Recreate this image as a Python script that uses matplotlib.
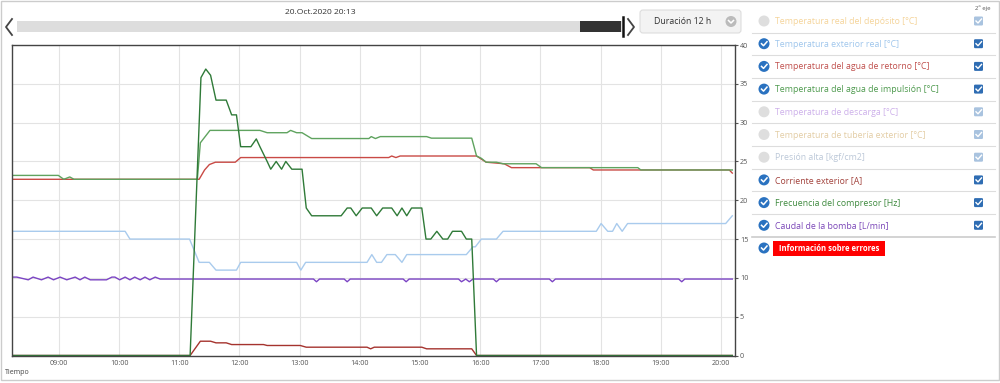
import matplotlib
matplotlib.use('Agg')
import matplotlib.pyplot as plt
from matplotlib.patches import Rectangle, Circle, FancyBboxPatch

plt.rcParams['font.family'] = ['Open Sans', 'DejaVu Sans']

# ---- datos (horas decimales) ----
hour_ticks = [9, 10, 11, 12, 13, 14, 15, 16, 17, 18, 19, 20]
hour_labels = ['09:00', '10:00', '11:00', '12:00', '13:00', '14:00',
               '15:00', '16:00', '17:00', '18:00', '19:00', '20:00']
y_ticks = [0, 5, 10, 15, 20, 25, 30, 35, 40]

t_ext = [8.22, 10.10, 10.18, 11.17, 11.33, 11.50, 11.61, 11.95, 12.02, 12.95, 13.02, 13.10,
         14.12, 14.20, 14.28, 14.36, 14.45, 14.59, 14.70, 14.78, 15.77, 15.88, 15.92, 16.02,
         16.27, 16.38, 17.93, 18.01, 18.12, 18.20, 18.27, 18.36, 18.45, 20.08, 20.19]
v_ext = [16, 16, 15, 15, 12, 12, 11, 11, 12, 12, 11, 12,
         12, 13, 12, 12, 13, 13, 12, 13, 13, 14, 14, 15,
         15, 16, 16, 17, 16, 16, 17, 16, 17, 17, 18]

t_ret = [8.22, 11.33, 11.42, 11.50, 11.60, 11.93, 12.02, 14.48, 14.53, 14.60, 14.67,
         15.94, 16.10, 16.40, 16.52, 17.82, 17.88, 20.14, 20.19]
v_ret = [22.7, 22.7, 23.9, 24.6, 24.9, 24.9, 25.5, 25.5, 25.7, 25.5, 25.7,
         25.7, 24.9, 24.7, 24.2, 24.2, 23.9, 23.9, 23.5]

t_imp = [8.22, 8.99, 9.08, 9.18, 9.25, 11.30, 11.35, 11.51, 12.34, 12.46, 12.79, 12.85,
         12.95, 13.04, 13.20, 14.15, 14.19, 14.26, 14.34, 15.11, 15.19, 15.86, 15.94,
         16.02, 16.10, 16.27, 16.38, 16.93, 17.02, 18.62, 18.67, 20.19]
v_imp = [23.2, 23.2, 22.7, 23.0, 22.7, 22.7, 27.4, 29.0, 29.0, 28.7, 28.7, 29.0,
         28.7, 28.7, 27.95, 27.95, 28.2, 27.95, 28.2, 28.2, 28.0, 28.0, 25.7,
         25.4, 24.9, 24.9, 24.7, 24.7, 24.2, 24.2, 23.9, 23.9]

t_comp = [8.22, 11.18, 11.36, 11.44, 11.52, 11.61, 11.78, 11.87, 11.95, 12.02, 12.19, 12.28,
          12.34, 12.46, 12.52, 12.61, 12.70, 12.77, 12.87, 13.04, 13.11, 13.20, 13.69, 13.79,
          13.85, 13.94, 14.04, 14.19, 14.28, 14.38, 14.53, 14.62, 14.70, 14.78, 14.86, 15.03,
          15.10, 15.18, 15.28, 15.38, 15.46, 15.54, 15.69, 15.77, 15.86, 15.94, 20.19]
v_comp = [0, 0, 35.8, 36.9, 36.1, 32.9, 32.9, 31.0, 31.0, 26.9, 26.9, 27.9,
          26.9, 25.0, 24.0, 25.0, 24.0, 25.0, 24.0, 24.0, 19.0, 18.0, 18.0, 19.0,
          19.0, 18.0, 19.0, 19.0, 18.0, 19.0, 19.0, 18.0, 19.0, 18.0, 19.0, 19.0,
          15.0, 15.0, 16.0, 15.0, 15.0, 16.0, 16.0, 15.0, 15.0, 0, 0]

t_corr = [8.22, 11.18, 11.35, 11.52, 11.61, 11.78, 11.87, 12.40, 12.46, 13.01, 13.11,
          14.12, 14.18, 14.24, 15.03, 15.11, 15.86, 15.94, 20.19]
v_corr = [0, 0, 1.84, 1.84, 1.63, 1.63, 1.41, 1.41, 1.29, 1.29, 1.07,
          1.07, 0.86, 1.07, 1.07, 0.86, 0.86, 0, 0]

t_caud = [8.22, 8.30, 8.49, 8.57, 8.71, 8.82, 8.91, 9.02, 9.13, 9.27, 9.35, 9.43, 9.52,
          9.79, 9.88, 9.93, 10.01, 10.10, 10.18, 10.26, 10.35, 10.43, 10.51, 10.60, 10.68,
          13.23, 13.28, 13.33, 13.74, 13.79, 13.84, 14.72, 14.77, 14.82, 15.64, 15.69,
          15.76, 15.82, 15.88, 16.22, 16.27, 16.32, 17.15, 17.20, 17.25, 19.30, 19.35,
          19.40, 20.19]
v_caud = [10.1, 10.1, 9.75, 10.1, 9.75, 10.1, 9.75, 10.1, 9.75, 10.1, 9.75, 10.1, 9.75,
          9.75, 10.1, 10.1, 9.75, 10.1, 9.75, 10.1, 9.75, 10.1, 9.75, 10.1, 9.85,
          9.85, 9.5, 9.85, 9.85, 9.5, 9.85, 9.85, 9.5, 9.85, 9.85, 9.5,
          9.85, 9.5, 9.85, 9.85, 9.5, 9.85, 9.85, 9.5, 9.85, 9.85, 9.5,
          9.85, 9.85]

legend_items = [
    ('Temperatura real del depósito [°C]', '#f5d49a', False),
    ('Temperatura exterior real [°C]', '#9fc6ec', True),
    ('Temperatura del agua de retorno [°C]', '#c0504d', True),
    ('Temperatura del agua de impulsión [°C]', '#4e9a4e', True),
    ('Temperatura de descarga [°C]', '#cdb0ea', False),
    ('Temperatura de tubería exterior [°C]', '#e3cda5', False),
    ('Presión alta [kgf/cm2]', '#bcc8d8', False),
    ('Corriente exterior [A]', '#a2423c', True),
    ('Frecuencia del compresor [Hz]', '#3f8a3f', True),
    ('Caudal de la bomba [L/min]', '#7b47b8', True),
]

fig = plt.figure(figsize=(10, 3.83), dpi=100)

# capa de fondo en píxeles (interfaz alrededor del gráfico)
ui = fig.add_axes([0, 0, 1, 1])
ui.set_xlim(0, 1000); ui.set_ylim(383, 0); ui.axis('off')
ui.add_patch(Rectangle((1, 1), 998, 379, fill=False, ec='#cccccc', lw=1))

ui.text(320, 12.5, '20.Oct.2020 20:13', fontsize=6.1, ha='center', va='center', color='#333')
ui.add_patch(Rectangle((17, 21), 605, 11, fc='#dddddd', ec='none'))
ui.add_patch(Rectangle((580, 21), 41, 11, fc='#333333', ec='none'))
ui.plot([623, 623], [17, 36], color='#111', lw=1.8)
ui.plot([12, 6, 12], [19, 27, 35], color='#444', lw=1.3)
ui.plot([628, 634, 628], [19, 27, 35], color='#444', lw=1.3)
ui.add_patch(FancyBboxPatch((640, 10), 101, 23, boxstyle='round,pad=0,rounding_size=3',
                            fc='#f3f3f3', ec='#dddddd', lw=0.8))
ui.text(683, 21.5, 'Duración 12 h', fontsize=6.3, ha='center', va='center', color='#333')
ui.add_patch(Circle((731, 21.5), 5.5, fc='#bbbbbb', ec='none'))
ui.plot([728.5, 731, 733.5], [20.5, 23, 20.5], color='white', lw=1.1)

# leyenda
ui.text(983, 8, '2º eje', fontsize=4.3, ha='center', va='center', color='#555')
row_y = [21 + i * 22.7 for i in range(len(legend_items) + 1)]
for i, (name, col, on) in enumerate(legend_items):
    y = row_y[i]
    if on:
        ui.add_patch(Circle((764, y), 5.5, fc='#2a72c0', ec='none'))
        ui.plot([761.5, 763.5, 767], [y, y + 2, y - 2], color='white', lw=1.1)
        bcol = '#2f6db3'
    else:
        ui.add_patch(Circle((764, y), 5.5, fc='#dedede', ec='none'))
        bcol = '#a9c3df'
    ui.text(775, y + 0.5, name, fontsize=6.3, ha='left', va='center', color=col)
    ui.add_patch(FancyBboxPatch((974, y - 4.5), 9, 9, boxstyle='round,pad=0,rounding_size=1.2',
                                fc=bcol, ec='none'))
    ui.plot([976, 978, 981.5], [y, y + 2, y - 2], color='white', lw=1.0)
    ui.plot([752, 995], [y + 11.5, y + 11.5], color='#dddddd' if i < 9 else '#cccccc',
            lw=0.8 if i < 9 else 1.2)
y = row_y[-1]
ui.add_patch(Circle((764, y), 5.5, fc='#2a72c0', ec='none'))
ui.plot([761.5, 763.5, 767], [y, y + 2, y - 2], color='white', lw=1.1)
ui.add_patch(Rectangle((773, y - 7.5), 112, 15, fc='#ff0000', ec='none'))
ui.text(829, y + 0.5, 'Información sobre errores', fontsize=5.5, ha='center', va='center',
        color='white', fontweight='bold')

# gráfico
ax = fig.add_axes([0.012, 1 - 355.5 / 383, 0.723, 310.5 / 383])
ax.set_xlim(8.22, 20.235)
ax.set_ylim(0, 40)
ax.set_xticks(hour_ticks)
ax.set_xticklabels(hour_labels)
ax.set_yticks(y_ticks)
ax.yaxis.tick_right()
ax.tick_params(axis='both', labelsize=5.2, colors='#555', length=0, pad=3)
ax.tick_params(axis='y', length=2, pad=1.5)
ax.grid(color='#e3e3e3', lw=0.8)
for s in ax.spines.values():
    s.set_color('#444'); s.set_linewidth(1.0)

ax.plot(t_ext, v_ext, color='#a9cbed', lw=1.0)
ax.plot(t_caud, v_caud, color='#7b44c4', lw=1.0)
ax.plot(t_corr, v_corr, color='#a5332e', lw=1.0)
ax.plot(t_ret, v_ret, color='#c94a45', lw=1.0)
ax.plot(t_imp, v_imp, color='#5fa35f', lw=1.0)
ax.plot(t_comp, v_comp, color='#2f7a38', lw=1.0)

fig.text(0.005, 1 - 372 / 383, 'Tiempo', fontsize=5.0, color='#444', va='center')

fig.savefig('out.png', dpi=100)
